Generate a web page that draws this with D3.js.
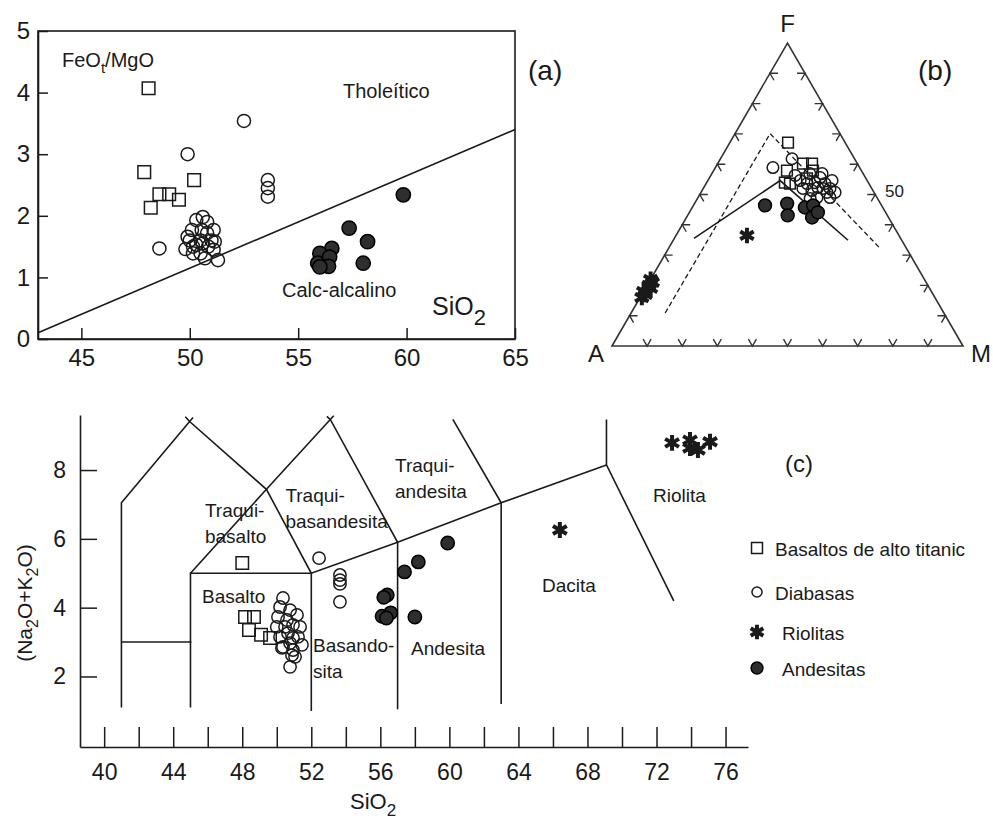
<!DOCTYPE html>
<html>
<head>
<meta charset="utf-8">
<script src="https://cdn.jsdelivr.net/npm/d3@7"></script>
<style>
  body { margin: 0; background: #fff; }
  svg { display: block; font-family: "Liberation Sans", Arial, sans-serif; }
</style>
</head>
<body>
<svg id="chart"></svg>
<script>
// ---------- (a) FeOt/MgO vs SiO2 ----------
let aXTicks = [45, 50, 55, 60, 65]
let aYTicks = [0, 1, 2, 3, 4, 5]
let aDivide = [[43, 0.1], [65, 3.4]]
let aBasaltos = [[48.1, 4.07], [47.9, 2.71], [48.2, 2.13], [48.6, 2.35], [49.05, 2.35], [49.5, 2.26], [50.2, 2.58]]
let aDiabasas = [[48.6, 1.47], [49.9, 3.0], [52.5, 3.54], [53.6, 2.58], [53.6, 2.45], [53.6, 2.31],
  [49.8, 1.46], [49.9, 1.66], [50.1, 1.77], [50.3, 1.93], [50.6, 1.98], [50.15, 1.5], [50.5, 1.6],
  [50.8, 1.72], [51.1, 1.77], [51.0, 1.6], [50.5, 1.39], [50.7, 1.31], [51.1, 1.45], [50.15, 1.39],
  [50.55, 1.77], [50.85, 1.5], [50.3, 1.53], [50.6, 1.55], [51.3, 1.28], [50.8, 1.9], [50.0, 1.6], [51.15, 1.58]]
let aAndesitas = [[59.85, 2.34], [57.35, 1.8], [58.2, 1.58], [58.0, 1.23], [56.55, 1.47], [56.0, 1.39],
  [56.45, 1.33], [55.9, 1.23], [56.4, 1.18], [56.0, 1.17]]

// ---------- (b) AFM ternary, [F, A, M] in % ----------
let bTicks = [10, 20, 30, 40, 50, 60, 70, 80, 90]
let bDashed = [[10.9, 79.4, 9.7], [70.1, 19.9, 10.0], [32.2, 7.5, 60.3]]
let bSolid = [[35.5, 58.9, 5.6], [54.6, 24.8, 20.6], [34.9, 15.3, 49.8]]
let bBasaltos = [[67.1, 16.3, 16.6], [60.2, 15.5, 24.3], [60.2, 12.9, 26.9], [57.9, 21.2, 20.9],
  [53.6, 22.5, 23.9], [53.9, 23.8, 22.3], [55.3, 16.8, 27.9], [57.9, 13.8, 28.3]]
let bDiabasas = [[58.9, 24.7, 16.4], [61.8, 17.8, 20.4], [55.6, 12.9, 31.5], [53.6, 12.5, 33.9],
  [52.0, 11.9, 36.1], [50.7, 11.1, 38.2], [50.7, 13.4, 35.9], [52.3, 15.2, 32.5], [51.3, 17.4, 31.3],
  [53.6, 17.6, 28.8], [54.6, 19.1, 26.3], [56.3, 19.7, 24.0], [49.0, 17.1, 33.9], [48.7, 19.2, 32.1],
  [49.0, 13.4, 37.6], [56.9, 11.7, 31.4], [56.9, 15.2, 27.9], [52.0, 19.6, 28.4], [52.0, 13.9, 34.1],
  [54.6, 10.0, 35.4], [53.9, 15.2, 30.9]]
let bAndesitas = [[46.4, 33.2, 20.4], [47.0, 26.6, 26.4], [43.1, 28.4, 28.5], [45.7, 22.2, 32.1],
  [46.4, 19.5, 34.1], [42.4, 21.8, 35.8], [44.1, 19.3, 36.6]]
let bRiolitas = [[36.5, 43.3, 20.2], [22, 78, 0], [20, 79.5, 0.5], [18, 82, 0], [17, 82, 1],
  [19, 79.5, 1.5], [21, 78, 1], [16, 83.5, 0.5]]

// ---------- (c) TAS ----------
let cXTicks = [40, 42, 44, 46, 48, 50, 52, 54, 56, 58, 60, 62, 64, 66, 68, 70, 72, 74, 76]
let cYTicks = [2, 4, 6, 8]
let cFields = [
  [[41, 1.1], [41, 7.05], [44.95, 9.41], [45.15, 9.53]],
  [[41, 3], [45.05, 3]],
  [[45, 1.1], [45, 5], [52, 5], [57, 5.9], [63, 7.05], [69.1, 8.15]],
  [[45, 5], [49.4, 7.44], [53.1, 9.47], [53.3, 9.58]],
  [[44.7, 9.55], [44.95, 9.41], [49.4, 7.44], [52, 5], [52, 1.0]],
  [[52.9, 9.56], [53.1, 9.47], [57, 5.9], [57, 1.05]],
  [[60.2, 9.47], [63, 7.05], [63, 1.2]],
  [[69.1, 9.47], [69.1, 8.15], [73, 4.2]]
]
let cFieldNames = [
  {lines: ['Traqui-', 'basalto'], at: [45.84, 6.64]},
  {lines: ['Traqui-', 'basandesita'], at: [50.5, 7.07]},
  {lines: ['Traqui-', 'andesita'], at: [56.85, 7.94]},
  {lines: ['Basalto'], at: [45.67, 4.14]},
  {lines: ['Basando-', 'sita'], at: [52.1, 2.71]},
  {lines: ['Andesita'], at: [57.78, 2.62]},
  {lines: ['Dacita'], at: [65.37, 4.46]},
  {lines: ['Riolita'], at: [71.8, 7.07]}
]
let cBasaltos = [[48.0, 5.3], [48.16, 3.73], [48.68, 3.73], [48.39, 3.35], [49.09, 3.21], [49.61, 3.12]]
let cDiabasas = [[52.45, 5.44], [53.66, 4.95], [53.66, 4.8], [53.66, 4.69], [53.66, 4.17],
  [50.36, 4.28], [50.19, 4.02], [50.07, 3.73], [50.0, 3.44], [50.19, 3.15], [50.36, 2.86], [50.77, 2.28],
  [50.88, 2.62], [51.17, 3.79], [51.35, 3.44], [51.46, 2.92], [50.94, 3.5], [50.65, 3.26], [50.77, 2.97],
  [50.59, 3.64], [50.94, 3.12], [51.23, 3.15], [50.94, 2.77], [50.3, 2.83], [50.77, 3.93], [50.48, 3.44],
  [51.06, 2.57]]
let cAndesitas = [[59.9, 5.88], [58.2, 5.33], [57.4, 5.04], [56.4, 4.37], [56.2, 4.3], [56.6, 3.85],
  [56.1, 3.75], [56.35, 3.7], [58.0, 3.73]]
let cRiolitas = [[66.4, 6.26], [72.9, 8.79], [73.94, 8.87], [74.4, 8.58], [75.1, 8.82], [73.94, 8.64]]

let legendNames = ['Basaltos de alto titanic', 'Diabasas', 'Riolitas', 'Andesitas']
let legendKinds = ['square', 'open', 'star', 'filled']

// ---------- drawing ----------
let width = 993
let height = 820
let ink = '#1a1a1a'

let svg = d3.select('#chart').attr('width', width).attr('height', height)
svg.append('rect').attr('width', width).attr('height', height).attr('fill', '#fff')

// marker styles
let drawMarks = (g, data, kind, px, py, size) => {
  let type = {square: d3.symbolSquare, open: d3.symbolCircle, filled: d3.symbolCircle, star: d3.symbolAsterisk}[kind]
  g.append('g').selectAll('path')
    .data(data)
    .enter()
    .append('path')
    .attr('transform', d => 'translate(' + px(d) + ',' + py(d) + ')')
    .attr('d', d3.symbol().type(type).size(size))
    .attr('fill', kind === 'filled' ? '#2e2e2e' : 'none')
    .attr('stroke', kind === 'filled' ? '#000' : ink)
    .attr('stroke-width', kind === 'star' ? 4 : 1.5)
}

let styleAxis = (g, fs) => {
  g.attr('font-size', fs).attr('font-family', null)
  g.selectAll('line').attr('stroke', ink).attr('stroke-width', 1.5)
  g.selectAll('path.domain').attr('stroke', ink).attr('stroke-width', 1.6)
  g.selectAll('text').attr('fill', ink)
}

// ===== panel (a) =====
let ax = d3.scaleLinear().domain([43, 65]).range([38, 515])
let ay = d3.scaleLinear().domain([0, 5]).range([339, 31])
let gA = svg.append('g')

gA.append('g')
  .attr('transform', 'translate(0,' + ay(0) + ')')
  .call(d3.axisBottom(ax).tickValues(aXTicks).tickSizeInner(-11).tickSizeOuter(0).tickPadding(10))
  .call(g => styleAxis(g, 24))
gA.append('g')
  .attr('transform', 'translate(' + ax(43) + ',0)')
  .call(d3.axisLeft(ay).tickValues(aYTicks).tickFormat(d3.format('d')).tickSizeInner(-10).tickSizeOuter(0).tickPadding(8))
  .call(g => styleAxis(g, 24))
gA.append('rect')
  .attr('x', ax(43)).attr('y', ay(5))
  .attr('width', ax(65) - ax(43)).attr('height', ay(0) - ay(5))
  .attr('fill', 'none').attr('stroke', ink).attr('stroke-width', 1.6)
gA.append('path')
  .attr('d', d3.line().x(d => ax(d[0])).y(d => ay(d[1]))(aDivide))
  .attr('fill', 'none').attr('stroke', ink).attr('stroke-width', 1.6)

drawMarks(gA, aBasaltos, 'square', d => ax(d[0]), d => ay(d[1]), 160)
drawMarks(gA, aDiabasas, 'open', d => ax(d[0]), d => ay(d[1]), 135)
drawMarks(gA, aAndesitas, 'filled', d => ax(d[0]), d => ay(d[1]), 160)

let tA = gA.append('text').attr('x', 62).attr('y', 67).attr('font-size', 20).attr('fill', ink)
tA.append('tspan').text('FeO')
tA.append('tspan').attr('font-size', 15).attr('dy', 6).text('t')
tA.append('tspan').attr('dy', -6).text('/MgO')
gA.append('text').attr('x', 343).attr('y', 98).attr('font-size', 20).attr('fill', ink).text('Tholeítico')
gA.append('text').attr('x', 282).attr('y', 297).attr('font-size', 20).attr('fill', ink).text('Calc-alcalino')
let sA = gA.append('text').attr('x', 432).attr('y', 315).attr('font-size', 25).attr('fill', ink)
sA.append('tspan').text('SiO')
sA.append('tspan').attr('dy', 10).attr('font-size', 22).text('2')
gA.append('text').attr('x', 528).attr('y', 80).attr('font-size', 28).attr('fill', ink).text('(a)')

// ===== panel (b) =====
let tx = d3.scaleLinear().domain([0, 100]).range([612, 963])
let ty = d3.scaleLinear().domain([0, 100]).range([346, 43])
let tpx = d => tx(d[2] + d[0] / 2)
let tpy = d => ty(d[0])
let gB = svg.append('g')

gB.append('path')
  .attr('d', d3.line().x(tpx).y(tpy)([[0, 100, 0], [100, 0, 0], [0, 0, 100], [0, 100, 0]]) + 'Z')
  .attr('fill', 'none').attr('stroke', '#333').attr('stroke-width', 1.6)

// chevron ticks along each side
let L = 8
let c60 = Math.cos(Math.PI / 3) * L
let s60 = Math.sin(Math.PI / 3) * L
let chev = []
bTicks.forEach(v => {
  let p = [tx(v), ty(0)]
  chev.push([[p[0] - c60, p[1] - s60], p, [p[0] + c60, p[1] - s60]])
  p = [tx(v / 2), ty(v)]
  chev.push([[p[0] + L, p[1]], p, [p[0] + c60, p[1] + s60]])
  p = [tx(100 - v / 2), ty(v)]
  chev.push([[p[0] - L, p[1]], p, [p[0] - c60, p[1] + s60]])
})
gB.append('g').selectAll('path')
  .data(chev)
  .enter()
  .append('path')
  .attr('d', d => d3.line()(d))
  .attr('fill', 'none').attr('stroke', '#333').attr('stroke-width', 1.4)

gB.append('path')
  .attr('d', d3.line().x(tpx).y(tpy)(bDashed))
  .attr('fill', 'none').attr('stroke', ink).attr('stroke-width', 1.3).attr('stroke-dasharray', '5,3')
gB.append('path')
  .attr('d', d3.line().x(tpx).y(tpy)(bSolid))
  .attr('fill', 'none').attr('stroke', ink).attr('stroke-width', 1.6)

drawMarks(gB, bBasaltos, 'square', tpx, tpy, 115)
drawMarks(gB, bDiabasas, 'open', tpx, tpy, 105)
drawMarks(gB, bAndesitas, 'filled', tpx, tpy, 130)
drawMarks(gB, bRiolitas, 'star', tpx, tpy, 170)

gB.append('text').attr('x', tx(50)).attr('y', 32).attr('text-anchor', 'middle').attr('font-size', 24).attr('fill', ink).text('F')
gB.append('text').attr('x', 596).attr('y', 362).attr('text-anchor', 'middle').attr('font-size', 24).attr('fill', ink).text('A')
gB.append('text').attr('x', 981).attr('y', 362).attr('text-anchor', 'middle').attr('font-size', 24).attr('fill', ink).text('M')
gB.append('text').attr('x', 885).attr('y', 197).attr('font-size', 17).attr('fill', ink).text('50')
gB.append('text').attr('x', 918).attr('y', 80).attr('font-size', 28).attr('fill', ink).text('(b)')

// ===== panel (c) =====
let cx = d3.scaleLinear().domain([38.6, 77.3]).range([80, 748])
let cy = d3.scaleLinear().domain([-0.05, 9.6]).range([747, 415])
let gC = svg.append('g')

gC.append('g')
  .attr('transform', 'translate(0,' + cy(-0.05) + ')')
  .call(d3.axisBottom(cx).tickValues(cXTicks).tickSizeInner(-20).tickSizeOuter(0).tickPadding(17)
    .tickFormat(d => d % 4 === 0 ? d : ''))
  .call(g => styleAxis(g, 23))
gC.append('g')
  .attr('transform', 'translate(' + cx(38.6) + ',0)')
  .call(d3.axisLeft(cy).tickValues(cYTicks).tickSizeInner(-17).tickSizeOuter(0).tickPadding(14))
  .call(g => styleAxis(g, 23))

gC.append('g').selectAll('path')
  .data(cFields)
  .enter()
  .append('path')
  .attr('d', d3.line().x(d => cx(d[0])).y(d => cy(d[1])))
  .attr('fill', 'none').attr('stroke', ink).attr('stroke-width', 1.6)

gC.append('g').selectAll('text')
  .data(cFieldNames)
  .enter()
  .append('text')
  .attr('x', d => cx(d.at[0]))
  .attr('y', d => cy(d.at[1]))
  .attr('font-size', 19).attr('fill', ink)
  .each(function (d) {
    d3.select(this).selectAll('tspan')
      .data(d.lines)
      .enter()
      .append('tspan')
      .attr('x', cx(d.at[0]))
      .attr('dy', (t, i) => i === 0 ? 0 : 26)
      .text(t => t)
  })

drawMarks(gC, cBasaltos, 'square', d => cx(d[0]), d => cy(d[1]), 155)
drawMarks(gC, cDiabasas, 'open', d => cx(d[0]), d => cy(d[1]), 120)
drawMarks(gC, cAndesitas, 'filled', d => cx(d[0]), d => cy(d[1]), 140)
drawMarks(gC, cRiolitas, 'star', d => cx(d[0]), d => cy(d[1]), 180)

let sC = gC.append('text').attr('x', 350).attr('y', 809).attr('font-size', 22).attr('fill', ink)
sC.append('tspan').text('SiO')
sC.append('tspan').attr('dy', 7).attr('font-size', 17).text('2')

let yC = gC.append('text').attr('transform', 'translate(32,603) rotate(-90)')
  .attr('text-anchor', 'middle').attr('font-size', 21).attr('fill', ink)
yC.append('tspan').text('(Na')
yC.append('tspan').attr('dy', 6).attr('font-size', 16).text('2')
yC.append('tspan').attr('dy', -6).text('O+K')
yC.append('tspan').attr('dy', 6).attr('font-size', 16).text('2')
yC.append('tspan').attr('dy', -6).text('O)')

gC.append('text').attr('x', 785).attr('y', 472).attr('font-size', 24).attr('fill', ink).text('(c)')

// legend
let legend = gC.append('g')
let legendY = [548, 592, 632, 668]
legendNames.forEach((name, i) => {
  let row = legend.append('g').attr('transform', 'translate(757,' + legendY[i] + ')')
  let size = {square: 120, open: 80, star: 150, filled: 110}[legendKinds[i]]
  drawMarks(row, [0], legendKinds[i], () => 0, () => 0, size)
  row.append('text').attr('x', i < 2 ? 18 : 25).attr('y', 8).attr('font-size', 19).attr('fill', ink).text(name)
})
</script>
</body>
</html>
